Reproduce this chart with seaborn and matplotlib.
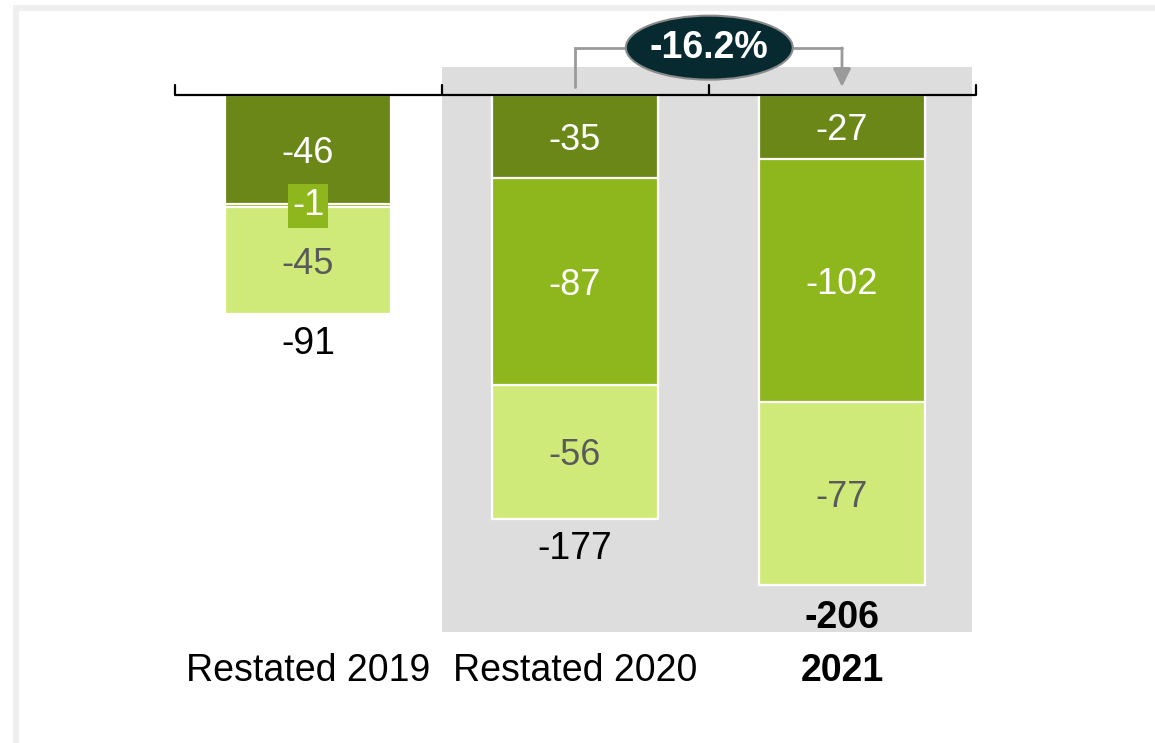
import matplotlib
matplotlib.use("Agg")
import matplotlib.pyplot as plt
from matplotlib.patches import Rectangle, Ellipse
import seaborn as sns
import pandas as pd

# ---- data ----
categories = ["Restated 2019", "Restated 2020", "2021"]
dark_vals = [-46, -35, -27]
mid_vals = [-1, -87, -102]
light_vals = [-45, -56, -77]
totals = [-91, -177, -206]
change_label = "-16.2%"

# colours
DARK = "#6a8717"
MID = "#8db71c"
LIGHT = "#d0ea7a"
GREY_BG = "#dddddd"
ARROW = "#9a9a9a"
BUBBLE = "#062a30"

sns.set_theme(style="white")
plt.rcParams["font.family"] = ["Liberation Sans", "DejaVu Sans"]

df = pd.DataFrame({
    "cat": categories,
    "dark": dark_vals,
    "mid": mid_vals,
    "light": light_vals,
})
df["upto_mid"] = df["dark"] + df["mid"]
df["upto_light"] = df["upto_mid"] + df["light"]

fig = plt.figure(figsize=(11.55, 7.43), dpi=100)
ax = fig.add_axes([0, 0, 1, 1])

# stacked bars by overlaying cumulative sums (biggest first)
bar_kw = dict(width=0.62, saturation=1, edgecolor="white", linewidth=1.6, ax=ax, zorder=2)
sns.barplot(data=df, x="cat", y="upto_light", color=LIGHT, **bar_kw)
sns.barplot(data=df, x="cat", y="upto_mid", color=MID, **bar_kw)
sns.barplot(data=df, x="cat", y="dark", color=DARK, **bar_kw)

# grey highlight behind 2020 / 2021
ax.add_patch(Rectangle((0.5, -225.6), 1.987, 237.4, facecolor=GREY_BG,
                       edgecolor="none", zorder=0))

# segment labels (nudged down a bit so digits sit visually centred)
nudge = -1.6
for i in range(len(categories)):
    d, m, l = dark_vals[i], mid_vals[i], light_vals[i]
    ax.text(i, d / 2 + nudge, f"{d}", ha="center", va="center", fontsize=26,
            color="white", zorder=5)
    if abs(m) < 5:
        ax.text(i, d + m / 2, f"{m}", ha="center", va="center", fontsize=26,
                color="white", zorder=6,
                bbox=dict(boxstyle="square,pad=0.12", fc=MID, ec="none"))
    else:
        ax.text(i, d + m / 2 + nudge, f"{m}", ha="center", va="center", fontsize=26,
                color="white", zorder=5)
    ax.text(i, d + m + l / 2 + nudge, f"{l}", ha="center", va="center", fontsize=26,
            color="#5a5a5a", zorder=5)
    bold = "bold" if i == len(categories) - 1 else "normal"
    ax.text(i, totals[i] - 13.6, f"{totals[i]}", ha="center", va="center",
            fontsize=27, color="black", fontweight=bold, zorder=5)
    ax.text(i, -242.2, categories[i], ha="center", va="center",
            fontsize=27, color="black", fontweight=bold, zorder=5)

# baseline with upward ticks at the category boundaries
ax.plot([-0.5, 2.5], [0, 0], color="black", lw=1.6, zorder=4,
        solid_capstyle="butt")
for xb in [-0.5, 0.5, 1.5, 2.5]:
    ax.plot([xb, xb], [0, 4.3], color="black", lw=1.6, zorder=4)

# change connector 2020 -> 2021
ax.plot([1, 1, 2], [3.4, 19.8, 19.8], color=ARROW, lw=2, zorder=3,
        solid_joinstyle="miter")
ax.annotate("", xy=(2, 3.4), xytext=(2, 19.8),
            arrowprops=dict(arrowstyle="-|>,head_length=0.55,head_width=0.27",
                            color=ARROW, lw=2, mutation_scale=20,
                            shrinkA=0, shrinkB=0),
            zorder=3)
ax.add_patch(Ellipse((1.503, 19.9), 0.625, 26.9, facecolor=BUBBLE,
                     edgecolor="#8a8a8a", lw=1.5, zorder=6))
ax.text(1.503, 19.6, change_label, ha="center", va="center", fontsize=27,
        fontweight="bold", color="white", zorder=7)

ax.set_xlim(-308 / 267, (1155 - 308) / 267)
ax.set_ylim(-(743 - 95) / 2.38, 95 / 2.38)
ax.axis("off")

# faint frame along the top and left edges
fig.add_artist(Rectangle((13 / 1155, 0), 6 / 1155, 738 / 743,
                         transform=fig.transFigure, facecolor="#efefef",
                         edgecolor="none"))
fig.add_artist(Rectangle((13 / 1155, 732 / 743), 1142 / 1155, 6 / 743,
                         transform=fig.transFigure, facecolor="#efefef",
                         edgecolor="none"))

fig.savefig("out.png", dpi=100)
